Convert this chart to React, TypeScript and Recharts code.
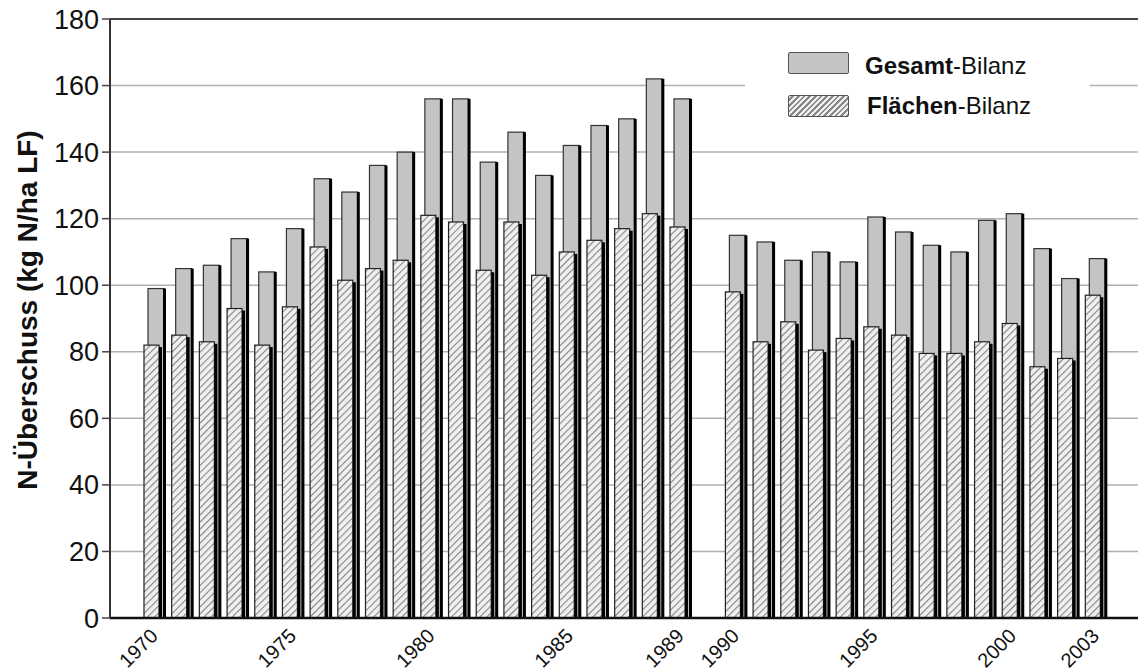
import React from 'react';
import {
  BarChart,
  Bar,
  XAxis,
  YAxis,
  CartesianGrid,
  ReferenceLine,
} from 'recharts';

// years, with an empty slot between 1989 and 1990
const years = [
  '1970', '1971', '1972', '1973', '1974', '1975', '1976', '1977', '1978', '1979',
  '1980', '1981', '1982', '1983', '1984', '1985', '1986', '1987', '1988', '1989',
  'gap',
  '1990', '1991', '1992', '1993', '1994', '1995', '1996', '1997', '1998', '1999',
  '2000', '2001', '2002', '2003',
];

const gesamtBilanz = [
  99, 105, 106, 114, 104, 117, 132, 128, 136, 140,
  156, 156, 137, 146, 133, 142, 148, 150, 162, 156,
  null,
  115, 113, 107.5, 110, 107, 120.5, 116, 112, 110, 119.5,
  121.5, 111, 102, 108,
];

const flaechenBilanz = [
  82, 85, 83, 93, 82, 93.5, 111.5, 101.5, 105, 107.5,
  121, 119, 104.5, 119, 103, 110, 113.5, 117, 121.5, 117.5,
  null,
  98, 83, 89, 80.5, 84, 87.5, 85, 79.5, 79.5, 83,
  88.5, 75.5, 78, 97,
];

const yTicks = [0, 20, 40, 60, 80, 100, 120, 140, 160, 180];
const labeledYears = ['1970', '1975', '1980', '1985', '1989', '1990', '1995', '2000', '2003'];

const data = years.map((year, i) => ({
  year,
  gesamt: gesamtBilanz[i],
  flaechen: flaechenBilanz[i],
}));

const FONT = '"Liberation Sans", Arial, sans-serif';

const GesamtShape = (props: any) => {
  const { x, y, width, height } = props;
  if (height == null || !(height > 0) || isNaN(y)) return null;
  const bx = x + 2;
  return (
    <g>
      <rect x={bx} y={y} width={width - 2} height={height} fill="#c4c4c4" stroke="#333" strokeWidth={1.2} />
      <rect x={bx + width - 3} y={y} width={3} height={height} fill="#000" />
    </g>
  );
};

const FlaechenShape = (props: any) => {
  const { x, y, width, height } = props;
  if (height == null || !(height > 0) || isNaN(y)) return null;
  const bx = x - 2;
  return (
    <g>
      <rect x={bx} y={y} width={width - 3} height={height} fill="url(#hatch)" stroke="#222" strokeWidth={1.2} />
      <rect x={bx + width - 3} y={y + 2} width={3} height={height - 2} fill="#000" />
    </g>
  );
};

const YearTick = (props: any) => {
  const { x, y, payload } = props;
  if (!labeledYears.includes(payload.value)) return null;
  const tx = x - 6;
  const ty = y + 1;
  return (
    <text
      x={tx}
      y={ty}
      textAnchor="end"
      dominantBaseline="hanging"
      transform={`rotate(-45, ${tx}, ${ty})`}
      fontSize={20}
      fontFamily={FONT}
      fill="#111"
    >
      {payload.value}
    </text>
  );
};

// legend drawn on top of the chart, white box hides the 160 grid line behind it
const LegendBox = () => (
  <div style={{ position: 'absolute', left: 745, top: 40, background: '#fff', width: 345, height: 88, fontFamily: FONT, color: '#111' }}>
    <div style={{ position: 'absolute', left: 43, top: 12, width: 59, height: 20, background: '#c4c4c4', border: '1.5px solid #555', borderRadius: 2 }} />
    <div style={{ position: 'absolute', left: 120, top: 11, fontSize: 24, lineHeight: '30px' }}>
      <b>Gesamt</b>-Bilanz
    </div>
    <div
      style={{
        position: 'absolute', left: 43, top: 55, width: 59, height: 20, border: '1.5px solid #555', borderRadius: 2,
        background: 'repeating-linear-gradient(135deg, #f0f0f0 0px, #f0f0f0 2px, #888 2px, #888 4px)',
      }}
    />
    <div style={{ position: 'absolute', left: 122, top: 51, fontSize: 24, lineHeight: '30px' }}>
      <b>Flächen</b>-Bilanz
    </div>
  </div>
);

export default function App() {
  return (
    <div style={{ position: 'absolute', left: 0, top: 0, width: 1138, height: 670, background: '#fff' }}>
      <BarChart
        width={1138}
        height={670}
        data={data}
        margin={{ top: 19, right: 0, bottom: 0, left: 0 }}
        barSize={18}
        barGap={-18}
      >
        <defs>
          <pattern id="hatch" width="5" height="5" patternUnits="userSpaceOnUse" patternTransform="rotate(45)">
            <rect width="5" height="5" fill="#f0f0f0" />
            <line x1="0" y1="0" x2="0" y2="5" stroke="#858585" strokeWidth="2.2" />
          </pattern>
        </defs>
        <CartesianGrid vertical={false} stroke="#b0b0b0" strokeWidth={1.5} />
        <XAxis
          dataKey="year"
          interval={0}
          height={52}
          tick={<YearTick />}
          tickLine={false}
          axisLine={{ stroke: '#111', strokeWidth: 2.5 }}
          padding={{ left: 31, right: 28 }}
        />
        <YAxis
          domain={[0, 180]}
          ticks={yTicks}
          width={110}
          tickSize={8}
          tickMargin={3}
          tick={{ fontSize: 27, fontFamily: FONT, fill: '#111' }}
          tickLine={{ stroke: '#444', strokeWidth: 1.5 }}
          axisLine={{ stroke: '#333', strokeWidth: 2 }}
          label={{
            content: () => (
              <text
                x={30}
                y={310}
                transform="rotate(-90, 30, 310)"
                textAnchor="middle"
                dominantBaseline="middle"
                fontSize={28}
                fontWeight="bold"
                fontFamily={FONT}
                fill="#111"
              >
                N-Überschuss (kg N/ha LF)
              </text>
            ),
          }}
        />
        <ReferenceLine y={180} stroke="#444" strokeWidth={2} />
        <Bar dataKey="gesamt" name="Gesamt-Bilanz" shape={<GesamtShape />} isAnimationActive={false} />
        <Bar dataKey="flaechen" name="Flächen-Bilanz" shape={<FlaechenShape />} isAnimationActive={false} />
      </BarChart>
      <LegendBox />
    </div>
  );
}
